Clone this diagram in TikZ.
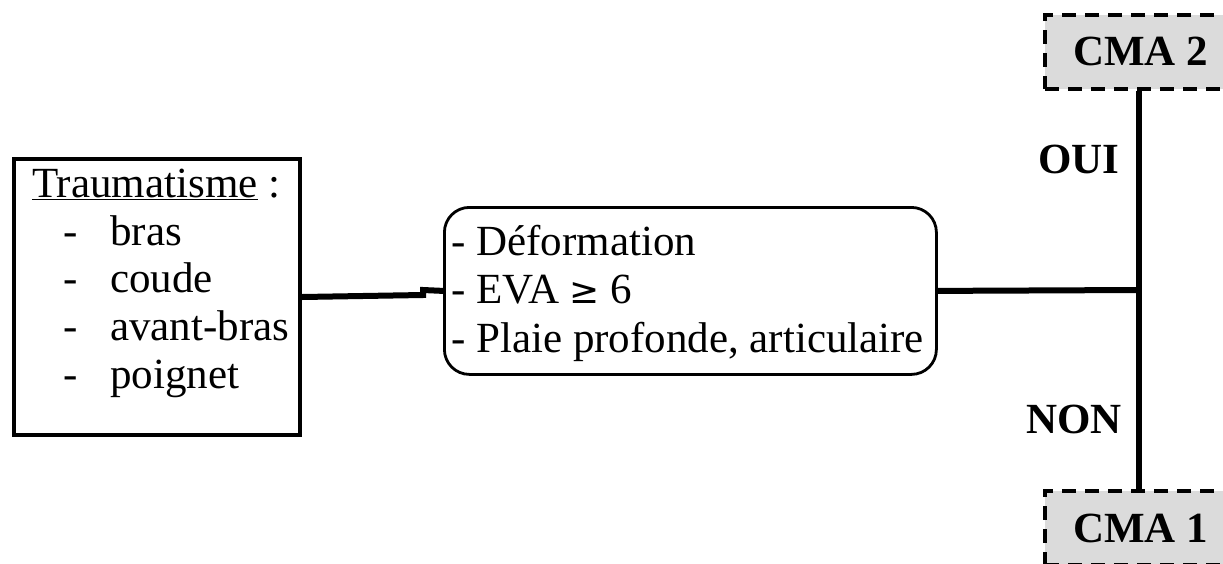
\documentclass[tikz,border=0pt]{standalone}
\usepackage{fontspec}
\setmainfont{Liberation Serif}
\newfontfamily\symfont{DejaVu Sans}
\begin{document}
\begin{tikzpicture}[x=1pt,y=-1pt,
  txt/.style={font=\fontsize{43}{47}\selectfont, inner sep=0pt, anchor=base west},
  boldtxt/.style={font=\fontsize{43}{47}\selectfont\bfseries, inner sep=0pt, anchor=base west},
  conn/.style={line width=6pt},
  cmabox/.style={draw, line width=4pt, dash pattern=on 14pt off 9pt, fill=black!14,
    minimum width=220pt, anchor=north west, inner sep=0pt}]
\useasboundingbox (0,0) rectangle (1223,563);
\clip (0,0) rectangle (1223,563);
% left box
\node[draw, line width=4pt, minimum width=286pt, minimum height=276pt, anchor=north west, inner sep=0pt] (trauma) at (12,157) {};
\node[txt] (t0) at (32,197) {\underline{Traumatisme} :};
\node[txt] (d1) at (63,245) {-};
\node[txt] (t1) at (110,245) {bras};
\node[txt] (d2) at (63,292) {-};
\node[txt] (t2) at (110,292) {coude};
\node[txt] (d3) at (63,340) {-};
\node[txt] (t3) at (110,340) {avant-bras};
\node[txt] (d4) at (63,388) {-};
\node[txt] (t4) at (110,388) {poignet};
% criteria box
\node[draw, line width=2.8pt, rounded corners=25pt, minimum width=492pt, minimum height=167pt, anchor=north west, inner sep=0pt] (crit) at (443,206) {};
\node[txt] (c1) at (451,255) {- Déformation};
\node[txt] (c2) at (451,303) {- EVA {\symfont\fontsize{36}{40}\selectfont ≥} 6};
\node[txt] (c3) at (451,352) {- Plaie profonde, articulaire};
% outcome boxes
\node[cmabox, minimum height=74pt] (cma2) at (1043,13) {};
\node[boldtxt] (l2) at (1073,65) {CMA 2};
\node[cmabox, minimum height=74pt] (cma1) at (1043,489) {};
\node[boldtxt] (l1) at (1073,542) {CMA 1};
% labels
\node[boldtxt] (oui) at (1038,173) {OUI};
\node[boldtxt] (non) at (1026,433) {NON};
% connectors
\coordinate (k1) at (423,295);
\coordinate (k2) at (423,290);
\coordinate (j) at (1139,290);
\draw[conn] (trauma.east) -- (k1) -- (k2) -- (crit.west);
\draw[conn] (crit.east) -- (j);
\draw[conn] (cma2.south -| j) -- (cma1.north -| j);
\end{tikzpicture}
\end{document}
